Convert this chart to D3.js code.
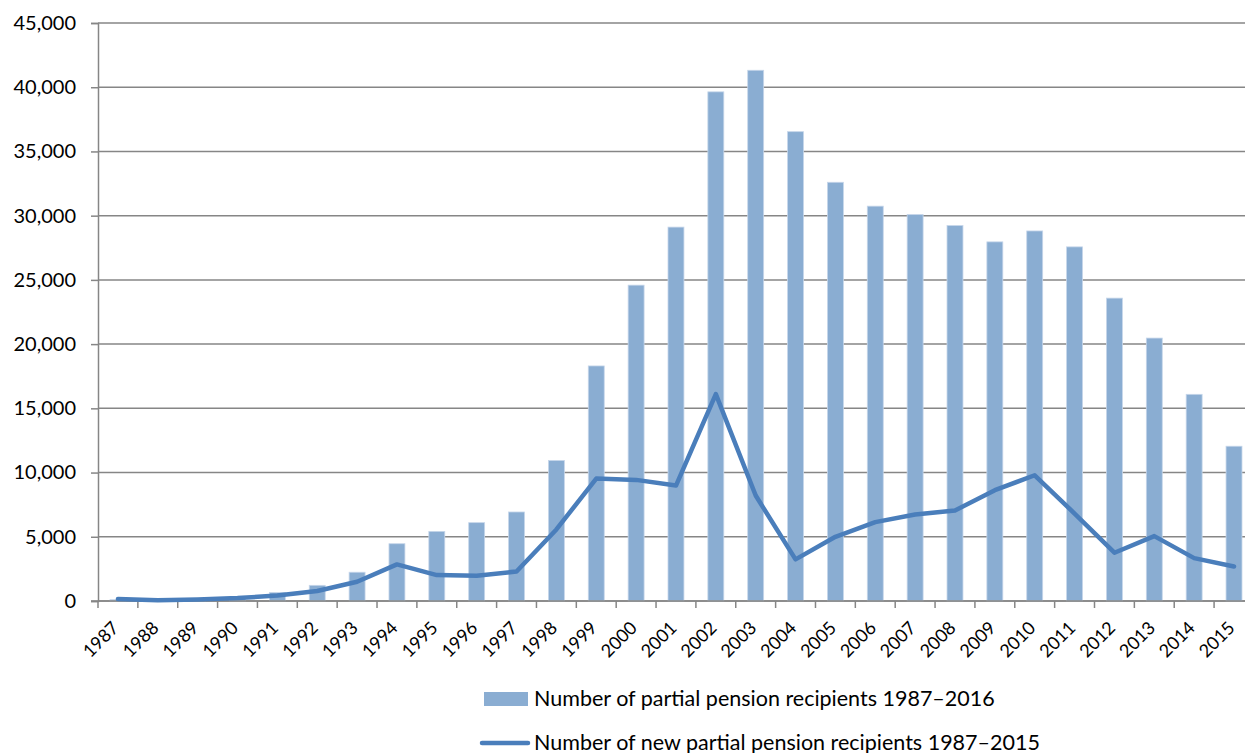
<!DOCTYPE html>
<html>
<head>
<meta charset="utf-8">
<script src="https://cdn.jsdelivr.net/npm/d3@7"></script>
<style>
  body { margin: 0; background: #fff; }
  svg { display: block; }
</style>
</head>
<body>
<svg id="chart" width="1245" height="753"></svg>
<script>
var years = ['1987', '1988', '1989', '1990', '1991', '1992', '1993', '1994', '1995', '1996',
    '1997', '1998', '1999', '2000', '2001', '2002', '2003', '2004', '2005', '2006',
    '2007', '2008', '2009', '2010', '2011', '2012', '2013', '2014', '2015'];

// Number of partial pension recipients
var recipients = [100, 50, 100, 200, 670, 1220, 2240, 4460, 5420, 6100,
    6930, 10940, 18300, 24590, 29110, 39640, 41320, 36540, 32600, 30740,
    30090, 29230, 27960, 28810, 27570, 23580, 20470, 16090, 12050];

// Number of new partial pension recipients
var newRecipients = [150, 50, 120, 230, 420, 780, 1500, 2850, 2020, 1970,
    2300, 5570, 9530, 9430, 8990, 16110, 8210, 3240, 5000, 6140,
    6740, 7050, 8630, 9790, 6810, 3760, 5050, 3340, 2690];

var yTicks = [0, 5000, 10000, 15000, 20000, 25000, 30000, 35000, 40000, 45000];

var legendLabels = ['Number of partial pension recipients 1987\u20132016',
    'Number of new partial pension recipients 1987\u20132015'];

var barColor = '#8aadd2';
var lineColor = '#4a7ebb';
var gridColor = '#868686';

var svg = d3.select('#chart');

var plotLeft = 98, plotTop = 23, plotBottom = 601;
var bandW = 39.86;

var x = d3.scaleBand()
    .domain(years)
    .range([plotLeft, plotLeft + years.length * bandW])
    .paddingInner(0.6)
    .paddingOuter(0.3);

var y = d3.scaleLinear()
    .domain([0, 45000])
    .range([plotBottom, plotTop]);

// gridlines
svg.append('g')
    .selectAll('line')
    .data(yTicks)
    .enter().append('line')
        .attr('x1', plotLeft)
        .attr('x2', 1245)
        .attr('y1', function (d) { return y(d); })
        .attr('y2', function (d) { return y(d); })
        .attr('stroke', gridColor)
        .attr('stroke-width', 1.5);

// y axis
var yAxis = svg.append('g')
    .attr('transform', 'translate(' + plotLeft + ',0)')
    .call(d3.axisLeft(y).tickValues(yTicks).tickSize(7).tickPadding(15)
        .tickFormat(d3.format(',')));
yAxis.select('.domain').attr('stroke', gridColor).attr('stroke-width', 1.5);
yAxis.selectAll('.tick line').attr('stroke', gridColor).attr('stroke-width', 1.5);
yAxis.selectAll('text')
    .attr('font-family', 'Lato, sans-serif')
    .attr('font-size', '20px')
    .attr('fill', '#000');

// bars
svg.append('g')
    .selectAll('rect')
    .data(years)
    .enter().append('rect')
        .attr('x', function (d) { return x(d); })
        .attr('width', x.bandwidth())
        .attr('y', function (d, i) { return y(recipients[i]); })
        .attr('height', function (d, i) { return plotBottom - y(recipients[i]); })
        .attr('fill', barColor)
        .attr('stroke', '#c6d6ea')
        .attr('stroke-width', 0.8);

// x axis baseline and ticks at band boundaries
var xg = svg.append('g');
xg.append('line')
    .attr('x1', plotLeft - 7)
    .attr('x2', 1245)
    .attr('y1', plotBottom)
    .attr('y2', plotBottom)
    .attr('stroke', gridColor)
    .attr('stroke-width', 1.5);
xg.selectAll('.xtick')
    .data(years)
    .enter().append('line')
        .attr('class', 'xtick')
        .attr('x1', function (d, i) { return plotLeft + i * bandW; })
        .attr('x2', function (d, i) { return plotLeft + i * bandW; })
        .attr('y1', plotBottom)
        .attr('y2', plotBottom + 7)
        .attr('stroke', gridColor)
        .attr('stroke-width', 1.5);
xg.selectAll('text')
    .data(years)
    .enter().append('text')
        .attr('transform', function (d) {
            var cx = x(d) + x.bandwidth() / 2 + 2;
            return 'translate(' + cx + ',' + (plotBottom + 28) + ') rotate(-45)';
        })
        .attr('text-anchor', 'end')
        .attr('font-family', 'Lato, sans-serif')
        .attr('font-size', '18px')
        .attr('fill', '#000')
        .text(function (d) { return d; });

// line
var line = d3.line()
    .x(function (d, i) { return x(years[i]) + x.bandwidth() / 2; })
    .y(function (d) { return y(d); });

svg.append('path')
    .datum(newRecipients)
    .attr('d', line)
    .attr('fill', 'none')
    .attr('stroke', lineColor)
    .attr('stroke-width', 4.5)
    .attr('stroke-linejoin', 'round')
    .attr('stroke-linecap', 'round');

// legend
var legend = svg.append('g');
legend.append('rect')
    .attr('x', 484)
    .attr('y', 692)
    .attr('width', 44)
    .attr('height', 14)
    .attr('fill', barColor);
legend.append('line')
    .attr('x1', 482)
    .attr('x2', 528)
    .attr('y1', 743)
    .attr('y2', 743)
    .attr('stroke', lineColor)
    .attr('stroke-width', 4.5)
    .attr('stroke-linecap', 'round');
legend.selectAll('text')
    .data(legendLabels)
    .enter().append('text')
        .attr('x', 534)
        .attr('y', function (d, i) { return 706 + i * 44; })
        .attr('font-family', 'Lato, sans-serif')
        .attr('font-size', '21.5px')
        .attr('fill', '#000')
        .text(function (d) { return d; });
</script>
</body>
</html>
